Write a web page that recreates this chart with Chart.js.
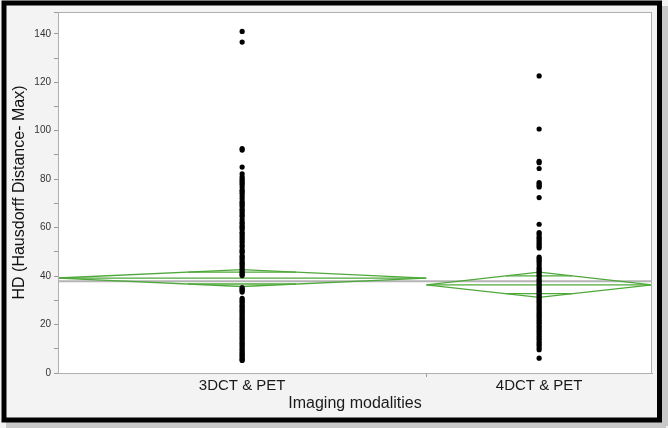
<!DOCTYPE html>
<html>
<head>
<meta charset="utf-8">
<script src="https://cdn.jsdelivr.net/npm/chart.js@4/dist/chart.umd.min.js"></script>
<style>
  html, body { margin: 0; padding: 0; background: #ffffff; }
  #wrap { width: 668px; height: 428px; }
</style>
</head>
<body>
<div id="wrap"><canvas id="hdChart" width="668" height="428"></canvas></div>
<script>
// groups (x axis), JMP makes each group as wide as its sample share
const categories = ["3DCT & PET", "4DCT & PET"];
const groupSizes = [62, 38];

// HD values
const values3DCT = [141.0, 136.6, 92.6, 92.0, 85.0, 82.2, 81.0, 80.1, 79.4, 78.6, 77.9, 76.8,
    75.6, 75.0, 74.2, 73.1, 72.0, 70.8, 70.1, 69.4, 68.7, 67.6, 66.9, 66.0, 65.2, 64.6, 63.3,
    62.2, 61.5, 60.6, 60.0, 59.2, 58.1, 57.4, 56.5, 55.7, 54.9, 54.0, 52.8, 52.1, 50.9, 50.2,
    49.6, 48.4, 47.8, 46.9, 46.0, 45.3, 44.6, 43.8, 42.9, 42.1, 41.4, 40.8, 40.2, 35.2, 34.6,
    34.0, 33.4, 30.8, 30.1, 29.5, 28.9, 28.0, 27.4, 26.7, 25.9, 25.3, 24.6, 23.8, 23.0, 22.4,
    21.7, 20.9, 20.2, 19.5, 18.8, 18.0, 17.3, 16.6, 15.9, 15.1, 14.4, 13.8, 13.0, 12.3, 11.6,
    10.9, 10.1, 9.5, 8.8, 8.1, 7.5, 6.9, 6.2, 5.6, 5.2];
const values4DCT = [122.6, 100.7, 87.4, 86.8, 84.4, 78.6, 78.0, 77.4, 76.8, 72.4, 61.4, 58.0,
    57.3, 56.2, 55.6, 54.8, 53.9, 53.1, 52.3, 51.6, 47.8, 47.1, 46.4, 45.6, 44.6, 43.5, 42.8,
    42.0, 41.2, 40.3, 39.6, 38.7, 37.9, 37.0, 36.2, 35.4, 34.6, 33.7, 32.9, 32.1, 31.2, 30.4,
    29.6, 28.8, 27.9, 27.1, 26.3, 25.4, 24.6, 23.8, 23.0, 22.1, 21.3, 20.5, 19.6, 18.8, 17.9,
    17.1, 16.3, 15.4, 14.6, 13.8, 12.9, 12.1, 11.3, 10.4, 9.6, 6.1];

// means diamonds
const groupMeans = [39.2, 36.4];
const ciHalfWidths = [3.5, 5.2];
const grandMean = 37.9;

const yTicks = [0, 20, 40, 60, 80, 100, 120, 140];

const green = "#4fa83a";
const total = groupSizes.reduce((a, b) => a + b, 0);

// group bounds on the x scale
const bounds = [];
let start = 0;
groupSizes.forEach(n => {
    bounds.push({ lo: start, hi: start + n, mid: start + n / 2 });
    start += n;
});

const datasets = [];

// dots
[values3DCT, values4DCT].forEach((vals, i) => {
    datasets.push({
        type: "scatter",
        data: vals.map(v => ({ x: bounds[i].mid, y: v })),
        backgroundColor: "#000000",
        borderColor: "#000000",
        pointRadius: 2.6,
        pointBorderWidth: 0,
        order: 0,
    });
});

// diamonds, mean line and overlap marks
groupMeans.forEach((m, i) => {
    const b = bounds[i];
    const h = ciHalfWidths[i];
    const lineStyle = {
        type: "line",
        borderColor: green,
        borderWidth: 1.3,
        pointRadius: 0,
        fill: false,
        tension: 0,
        order: 1,
    };
    datasets.push(Object.assign({}, lineStyle, {
        data: [
            { x: b.lo, y: m }, { x: b.mid, y: m + h }, { x: b.hi, y: m },
            { x: b.mid, y: m - h }, { x: b.lo, y: m },
        ],
    }));
    datasets.push(Object.assign({}, lineStyle, {
        data: [{ x: b.lo, y: m }, { x: b.hi, y: m }],
    }));
    const d = h / Math.SQRT2;
    const half = (b.hi - b.lo) / 2 * (1 - d / h);
    [m + d, m - d].forEach(yv => {
        datasets.push(Object.assign({}, lineStyle, {
            data: [{ x: b.mid - half, y: yv }, { x: b.mid + half, y: yv }],
        }));
    });
});

// grand mean
datasets.push({
    type: "line",
    data: [{ x: 0, y: grandMean }, { x: total, y: grandMean }],
    borderColor: "#b4b4b4",
    borderWidth: 2,
    pointRadius: 0,
    order: 2,
});

const framePlugin = {
    id: "frame",
    beforeDraw(chart) {
        const { ctx, chartArea: a } = chart;
        ctx.save();
        ctx.fillStyle = "#f3f3f3";
        ctx.fillRect(0, 0, chart.width, chart.height);
        ctx.fillStyle = "#ffffff";
        ctx.fillRect(a.left, a.top, a.right - a.left, a.bottom - a.top);
        ctx.restore();
    },
    afterDraw(chart) {
        const { ctx, chartArea: a } = chart;
        ctx.save();
        ctx.strokeStyle = "#b0b0b0";
        ctx.lineWidth = 1;
        ctx.strokeRect(a.left + 0.5, a.top + 0.5, a.right - a.left - 1, a.bottom - a.top);
        // outer black frame with a soft shadow
        ctx.fillStyle = "#c8c8c8";
        ctx.fillRect(662, 6, 6, 420);
        ctx.fillRect(6, 422, 660, 6);
        ctx.strokeStyle = "#000000";
        ctx.lineWidth = 5;
        ctx.strokeRect(4, 3, 655.5, 417);
        ctx.restore();
    },
};

new Chart(document.getElementById("hdChart"), {
    data: { datasets: datasets },
    options: {
        responsive: false,
        animation: false,
        events: [],
        layout: { padding: { left: 0, top: 12, right: 16, bottom: 0 } },
        plugins: {
            legend: { display: false },
            tooltip: { enabled: false },
        },
        scales: {
            x: {
                type: "linear",
                min: 0,
                max: total,
                afterFit(scale) { scale.height = 55; },
                afterBuildTicks(scale) {
                    scale.ticks = [
                        { value: bounds[0].mid },
                        { value: bounds[0].hi },
                        { value: bounds[1].mid },
                    ];
                },
                ticks: {
                    autoSkip: false,
                    maxRotation: 0,
                    padding: 0,
                    color: "#1a1a1a",
                    font: { family: "'Liberation Sans', Arial, sans-serif", size: 15 },
                    callback(value) {
                        const i = bounds.findIndex(b => b.mid === value);
                        return i >= 0 ? categories[i] : "";
                    },
                },
                grid: {
                    drawOnChartArea: false,
                    tickLength: 4,
                    color(ctx) {
                        return ctx.tick && ctx.tick.value === bounds[0].hi ? "#9a9a9a" : "rgba(0,0,0,0)";
                    },
                },
                border: { display: true, color: "#a8a8a8" },
                title: {
                    display: true,
                    text: "Imaging modalities",
                    color: "#1a1a1a",
                    font: { family: "'Liberation Sans', Arial, sans-serif", size: 16 },
                    padding: { top: 0, bottom: 15 },
                },
            },
            y: {
                min: 0,
                max: 149,
                afterFit(scale) { scale.width = 58; },
                ticks: {
                    stepSize: 10,
                    padding: 3,
                    color: "#333333",
                    font: { family: "'Liberation Sans', Arial, sans-serif", size: 10 },
                    callback(value) {
                        return yTicks.includes(value) ? String(value) : "";
                    },
                },
                grid: {
                    drawOnChartArea: false,
                    tickLength: 4,
                    color: "#9a9a9a",
                },
                border: { display: true, color: "#a8a8a8" },
                title: {
                    display: true,
                    text: "HD (Hausdorff Distance- Max)",
                    color: "#111111",
                    font: { family: "'Liberation Sans', Arial, sans-serif", size: 16 },
                    padding: { top: 10, bottom: 0 },
                },
            },
        },
    },
    plugins: [framePlugin],
});
</script>
</body>
</html>
